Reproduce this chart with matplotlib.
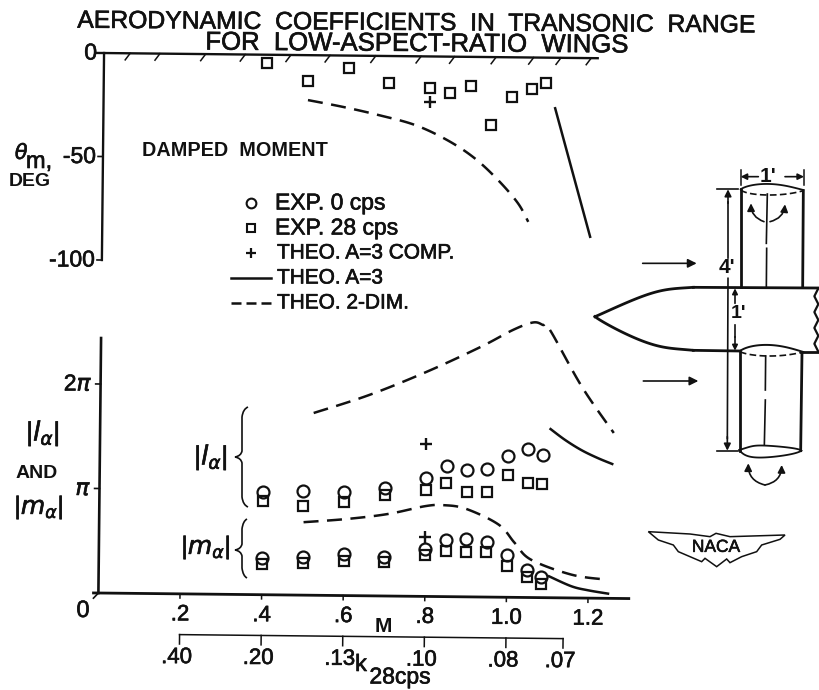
import matplotlib
matplotlib.use("Agg")
import matplotlib.pyplot as plt
import matplotlib.patheffects as pe
import numpy as np
from matplotlib.transforms import Affine2D
from matplotlib.path import Path
from matplotlib.patches import PathPatch, FancyArrowPatch, Polygon

FONT = "Liberation Sans"
plt.rcParams["font.family"] = [FONT, "DejaVu Sans"]
plt.rcParams["mathtext.fontset"] = "custom"
plt.rcParams["mathtext.rm"] = FONT
plt.rcParams["mathtext.it"] = "DejaVu Sans:italic"

# ---------- data ----------
mach_exp = [.4, .5, .6, .7, .8, .85, .9, .95, 1.0, 1.05, 1.085]
theta_28 = [-3.9, -12.4, -6.1, -13.2, -15.4, -17.7, -14.1, -33.0, -19.3, -15.2, -12.1]
theta_comp_m, theta_comp = [.8], [-21.9]
theta_2d_m = [.501, .589, .675, .764, .843, .91, .969, 1.018, 1.044]
theta_2d = [-21.7, -24.9, -28.6, -33.2, -40.3, -48.8, -59.4, -70.4, -79.4]
theta_a3_m = [1.107, 1.196]
theta_a3 = [-24.4, -86.3]

la_0 = [.981, .992, .99, 1.038, 1.138, 1.249, 1.21, 1.227, 1.348, 1.42, 1.361]
la_28 = [.898, .851, .894, .971, 1.017, 1.089, 1.008, 1.01, 1.169, 1.094, 1.089]
ma_0 = [.351, .363, .396, .371, .457, .54, .551, .527, .402, .26, .198]
ma_28 = [.297, .308, .328, .323, .40, .435, .43, .428, .303, .193, .134]
la_comp, ma_comp = [1.46], [.569]
comp_m = [.8]

la_2d_m = [.523, .658, .798, .93, 1.009, 1.058, 1.082, 1.1, 1.18, 1.259]
la_2d = [1.744, 1.921, 2.148, 2.392, 2.558, 2.632, 2.61, 2.562, 2.02, 1.583]
la_a3_m = [1.104, 1.14, 1.18, 1.22, 1.256]
la_a3 = [1.614, 1.511, 1.416, 1.342, 1.286]
ma_2d_m = [.501, .609, .709, .799, .844, .899, .979, 1.019, 1.059, 1.159, 1.244]
ma_2d = [.698, .734, .786, .864, .875, .842, .695, .521, .363, .223, .179]
ma_a3_m = [1.104, 1.159, 1.2, 1.249]
ma_a3 = [.205, .112, .075, .045]

mach_ticks = [.2, .4, .6, .8, 1.0, 1.2]
mach_labels = [".2", ".4", ".6", ".8", "1.0", "1.2"]
k_ticks = [.2, .4, .6, .8, 1.0, 1.14]
k_labels = [".40", ".20", ".13", ".10", ".08", ".07"]
theta_ticks = [0, -50, -100]
pi_ticks = [1, 2]
pi_labels = [r"$\pi$", r"$2\pi$"]
hatch_m = [.064, .137, .249, .346, .458, .554, .666, .777, .859, .961, 1.053, 1.12, 1.194]

# ---------- layout ----------
W, H = 819, 690
fig = plt.figure(figsize=(W / 100, H / 100), dpi=100)
PXM = 408.0
X0 = 98.4
YB = 593.0
PI = 104.5

ax = fig.add_axes([X0 / W, (H - YB) / H, 1.3 * PXM / W, 2.45 * PI / H])
ax.set_xlim(0, 1.3); ax.set_ylim(0, 2.45); ax.axis("off")
top = fig.add_axes([X0 / W, (H - 260) / H, 1.3 * PXM / W, 207 / H])
top.set_xlim(0, 1.3); top.set_ylim(-100, 0); top.axis("off")
ov = fig.add_axes([0, 0, 1, 1]); ov.set_xlim(0, W); ov.set_ylim(H, 0); ov.axis("off")
ov.set_zorder(5)

rot = Affine2D().rotate_deg_around(X0, H - YB, -0.6)
TL = ax.transData + rot
TT = top.transData + rot
K = "#111111"
HEAVY = [pe.withStroke(linewidth=0.45, foreground=K)]


def curve(a, t, m, v, **kw):
    """Draw a smooth curve through the read points with a Catmull-Rom path."""
    p = np.column_stack([m, v])
    out = []
    for i in range(len(p) - 1):
        p0 = p[max(i - 1, 0)]; p1 = p[i]; p2 = p[i + 1]; p3 = p[min(i + 2, len(p) - 1)]
        for s in np.linspace(0, 1, 12, endpoint=False):
            out.append(0.5 * ((2 * p1) + (-p0 + p2) * s + (2 * p0 - 5 * p1 + 4 * p2 - p3) * s * s
                              + (-p0 + 3 * p1 - 3 * p2 + p3) * s ** 3))
    out.append(p[-1])
    out = np.array(out)
    a.plot(out[:, 0], out[:, 1], transform=t, color=K, clip_on=False, **kw)


DASH = dict(lw=1.8, ls=(0, (6, 3.4)))
SOL = dict(lw=1.8)
SQ = dict(ls="none", marker="s", ms=7.2, mfc="none", mec=K, mew=1.6, clip_on=False, color=K)
CI = dict(ls="none", marker="o", ms=8.6, mfc="none", mec=K, mew=1.6, clip_on=False, color=K)
PL = dict(ls="none", marker="+", ms=8, mew=1.7, clip_on=False, color=K)

# top panel
top.plot([0, 0], [-100, 0], transform=TT, color=K, lw=1.7, clip_on=False)
top.plot([-.02, 1.21], [0, 0], transform=TT, color=K, lw=1.7, clip_on=False)
for m in hatch_m:
    top.plot([m, m - .012], [0, -3.2], transform=TT, color=K, lw=1.1, clip_on=False)
for t in theta_ticks[1:]:
    top.plot([-.012, 0], [t, t], transform=TT, color=K, lw=1.2, clip_on=False)
top.plot(mach_exp, theta_28, transform=TT, **SQ)
top.plot(theta_comp_m, theta_comp, transform=TT, **PL)
curve(top, TT, theta_2d_m, theta_2d, **DASH)
top.plot(theta_a3_m, theta_a3, transform=TT, color=K, lw=1.8, clip_on=False)

# bottom panel
ax.plot([0, 0], [0, 2.44], transform=TL, color=K, lw=1.9, clip_on=False)
ax.plot([-.012, 1.3], [0, 0], transform=TL, color=K, lw=2.0, clip_on=False)
ax.plot([-.012, 0], [-.05, 0], transform=TL, color=K, lw=1.2, clip_on=False)
for p in pi_ticks:
    ax.plot([-.012, 0], [p, p], transform=TL, color=K, lw=1.2, clip_on=False)
for m in mach_ticks:
    ax.plot([m, m], [0, -.04], transform=TL, color=K, lw=1.1, clip_on=False)
ax.plot(mach_exp, la_0, transform=TL, **CI)
ax.plot(mach_exp, la_28, transform=TL, **SQ)
ax.plot(mach_exp, ma_0, transform=TL, **CI)
ax.plot(mach_exp, ma_28, transform=TL, **SQ)
ax.plot(comp_m, la_comp, transform=TL, **PL)
ax.plot(comp_m, ma_comp, transform=TL, **PL)
curve(ax, TL, la_2d_m, la_2d, **DASH)
curve(ax, TL, la_a3_m, la_a3, **SOL)
curve(ax, TL, ma_2d_m, ma_2d, **DASH)
curve(ax, TL, ma_a3_m, ma_a3, **SOL)

# k axis below
ky = -.39
ax.plot([k_ticks[0], k_ticks[-1]], [ky, ky], transform=TL, color=K, lw=1.1, clip_on=False)
for m in k_ticks:
    ax.plot([m, m], [ky, ky - .09], transform=TL, color=K, lw=1.1, clip_on=False)

TXT = dict(color=K, ha="center", va="center", rotation_mode="anchor", path_effects=HEAVY)


def put(x, y, s, size=14, **kw):
    d = dict(TXT); d.update(kw)
    ov.text(x, y, s, fontsize=size, **d)


for m, s in zip(mach_ticks, mach_labels):
    ax.annotate(s, xy=(m, 0), xycoords=TL, xytext=(0, -21), textcoords="offset pixels",
                fontsize=16, ha="center", va="center", color=K, path_effects=HEAVY)
for m, s in zip(k_ticks, k_labels):
    ax.annotate(s, xy=(m, ky), xycoords=TL, xytext=(-3, -23), textcoords="offset pixels",
                fontsize=16, ha="center", va="center", color=K, path_effects=HEAVY)
for p, s in zip(pi_ticks, pi_labels):
    ax.annotate(s, xy=(0, p), xycoords=TL, xytext=(-8, 0), textcoords="offset pixels",
                fontsize=16.5, ha="right", va="center", color=K, path_effects=HEAVY)
for t in theta_ticks:
    lab = "0" if t == 0 else ("-" + str(-t))
    top.annotate(lab, xy=(0, t), xycoords=TT, xytext=(-7, 0), textcoords="offset pixels",
                 fontsize=16.5, ha="right", va="center", color=K, path_effects=HEAVY)

put(83, 611, "0", 17)
put(383, 626, "M", 15, fontweight="bold", path_effects=[])
put(361, 665, "k", 17)
put(400, 677, "28cps", 16.5)
put(416, 23, "AERODYNAMIC  COEFFICIENTS  IN  TRANSONIC  RANGE", 17.8, rotation=-0.4)
put(417, 44, "FOR  LOW-ASPECT-RATIO  WINGS", 18.5, rotation=-0.4)
put(235, 150, "DAMPED  MOMENT", 14.3, fontweight="bold", path_effects=[])
put(30, 182, "DEG", 14, fontweight="bold", path_effects=[])
put(22, 153, r"$\theta$", 15)
put(39, 162, "m,", 17)
put(43, 433, r"$|l_{\alpha}|$", 19)
put(37, 474, "AND", 14, fontweight="bold", path_effects=[])
put(39, 507, r"$|m_{\alpha}|$", 18)
put(211, 457, r"$|l_{\alpha}|$", 19)
put(206, 547, r"$|m_{\alpha}|$", 18)

# legend
leg_y = [203, 228, 253, 278, 303]
leg_txt = ["EXP. 0 cps", "EXP. 28 cps", "THEO. A=3 COMP.", "THEO. A=3", "THEO. 2-DIM."]
leg_size = [16.5, 16.5, 15, 15, 15]
ov.plot([251], [leg_y[0]], ls="none", marker="o", ms=7, mfc="none", mec=K, mew=1.5)
ov.plot([251], [leg_y[1]], ls="none", marker="s", ms=6.2, mfc="none", mec=K, mew=1.5)
ov.plot([251], [leg_y[2]], ls="none", marker="+", ms=7, mew=1.6, color=K)
ov.plot([231, 271], [leg_y[3]] * 2, color=K, lw=1.8)
ov.plot([231, 271], [leg_y[4]] * 2, color=K, lw=1.8, ls=(0, (4, 2)))
for y, s, x, fs in zip(leg_y, leg_txt, [275, 275, 277, 277, 277], leg_size):
    put(x, y, s, fs, ha="left")


# brace
def brace(xl, xr, y0, y1, ym):
    P = [(xr, y0), (xl + 2, y0 + 2), (xl + 1, y0 + 10), (xl + 1, ym - 6), (xl, ym - 1), (xl - 6, ym),
         (xl, ym + 1), (xl + 1, ym + 6), (xl + 1, y1 - 10), (xl + 2, y1 - 2), (xr, y1)]
    C = [Path.MOVETO, Path.CURVE3, Path.CURVE3, Path.LINETO, Path.CURVE3, Path.CURVE3,
         Path.CURVE3, Path.CURVE3, Path.LINETO, Path.CURVE3, Path.CURVE3]
    ov.add_patch(PathPatch(Path(P, C), fc="none", ec=K, lw=1.2))


brace(241, 248, 407, 507, 457)
brace(241, 247, 519, 578, 550)


# diagram (coordinates)
def z(pts):
    a = np.array(pts, float)
    return 590 + a[:, 0] / 3, 170 + a[:, 1] / 3


def line(pts, lw=1.6, **kw):
    x, y = z(pts)
    ov.plot(x, y, color=K, lw=lw, **kw)


def spline(pts, lw=1.6, **kw):
    a = np.array(pts, float)
    t = np.arange(len(a))
    tt = np.linspace(0, len(a) - 1, 80)
    co = np.polyfit(t, a, min(len(a) - 1, 4))
    xs = np.polyval(co[:, 0], tt); ys = np.polyval(co[:, 1], tt)
    line(np.column_stack([xs, ys]), lw=lw, **kw)


def arrow(p, q, lw=1.2, ms=11, cs="arc3,rad=0"):
    x, y = z([p, q])
    ov.add_patch(FancyArrowPatch((x[0], y[0]), (x[1], y[1]), arrowstyle="-|>", mutation_scale=ms,
                                 color=K, lw=lw, shrinkA=0, shrinkB=0, connectionstyle=cs))


spline([(15, 440), (80, 411), (160, 378), (230, 359), (310, 352)], lw=2)
line([(310, 352), (685, 354)], lw=2)
spline([(15, 440), (80, 478), (160, 514), (230, 533), (310, 541)], lw=2)
line([(310, 541), (450, 543)], lw=2)
line([(632, 545), (685, 545)], lw=2)
spline([(450, 543), (490, 528), (540, 525), (590, 532), (640, 546)], lw=1.4)
spline([(450, 545), (490, 555), (540, 558), (590, 555), (640, 546)], lw=1.2, ls=(0, (4, 2)))
wx = [685, 673, 685, 673, 685, 673, 685, 673, 685]
wy = np.linspace(355, 545, 9)
xs, ys = z(np.column_stack([wx, wy]))
tt = np.linspace(0, 8, 120)
ov.plot(np.interp(tt, range(9), xs), np.interp(tt, range(9), ys), color=K, lw=1.6)

line([(452, 58), (452, 352)], lw=2)
line([(640, 62), (638, 352)], lw=2)
line([(532, 72), (529, 220)], lw=1.2); line([(530, 235), (529, 352)], lw=1.2)
spline([(452, 58), (490, 45), (540, 42), (590, 48), (640, 60)], lw=1.3)
spline([(452, 60), (490, 72), (540, 75), (590, 72), (640, 62)], lw=1.2, ls=(0, (4, 2)))
line([(450, 545), (450, 842)], lw=2)
line([(636, 548), (632, 842)], lw=2)
line([(527, 558), (526, 660)], lw=1.2); line([(526, 690), (523, 825)], lw=1.2)
spline([(448, 840), (490, 828), (530, 827), (590, 832), (634, 842)], lw=1.3)
spline([(448, 840), (480, 860), (530, 862), (590, 855), (634, 842)], lw=1.3)

line([(382, 58), (445, 58)], lw=1.2); line([(380, 842), (445, 842)], lw=1.2)
line([(414, 95), (414, 265)], lw=1.2); line([(414, 325), (412, 805)], lw=1.2)
arrow((414, 100), (414, 58), ms=10); arrow((412, 800), (412, 842), ms=10)
line([(435, 465), (435, 500)], lw=1.2)
arrow((435, 400), (435, 355), ms=8); arrow((435, 500), (435, 542), ms=8)
line([(452, 0), (452, 45)], lw=1.1); line([(642, 0), (642, 45)], lw=1.1)
arrow((505, 20), (452, 20), ms=9); arrow((585, 20), (642, 20), ms=9)
arrow((158, 280), (320, 280), ms=13); arrow((160, 633), (325, 633), ms=13)
arrow((522, 155), (483, 100), ms=11, cs="arc3,rad=-0.35")
arrow((540, 155), (585, 103), ms=11, cs="arc3,rad=0.35")
arrow((525, 945), (475, 880), ms=11, cs="arc3,rad=-0.4")
arrow((525, 945), (575, 885), ms=11, cs="arc3,rad=0.4")
put(590 + 535 / 3, 170 + 20 / 3, "1'", 15, fontweight="bold", path_effects=[])
put(590 + 412 / 3, 170 + 293 / 3, "4'", 15, fontweight="bold", path_effects=[])
put(590 + 445 / 3, 170 + 432 / 3, "1'", 14, fontweight="bold", path_effects=[])

logo = [(175, 1085), (300, 1092), (360, 1100), (378, 1090), (420, 1100), (585, 1095), (570, 1108), (515, 1125),
        (500, 1145), (455, 1160), (420, 1178), (410, 1167), (380, 1190), (345, 1165), (335, 1175), (300, 1160),
        (265, 1145), (250, 1125), (205, 1110)]
lx, ly = z(logo)
ov.add_patch(Polygon(np.column_stack([lx, ly]), closed=True, fc="white", ec=K, lw=1.1))
put(590 + 378 / 3, 170 + 1132 / 3, "NACA", 12.5, path_effects=HEAVY)

fig.savefig("out.png", dpi=100, facecolor="white")
